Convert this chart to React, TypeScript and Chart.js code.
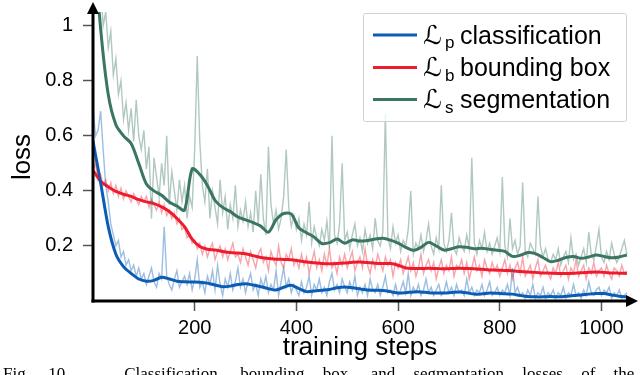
import React, { useEffect, useRef } from "react";
import { Chart, registerables } from "chart.js";

Chart.register(...registerables);

// ---------- data ----------
const RAW_STEP = 5; // raw losses sampled every 5 training steps (0..1050)
const SMOOTH_STEP = 15; // smoothed curves sampled every 15 steps (0..1050)

const X_TICKS = [200, 400, 600, 800, 1000];
const Y_TICKS = [0.2, 0.4, 0.6, 0.8, 1];

const LEGEND_SYMBOL = "ℒ";
const LEGEND_SUBS = ["p", "b", "s"];
const LEGEND_TEXT = ["classification", "bounding box", "segmentation"];

const clsRaw = [
  0.70, 0.60, 0.62, 0.69, 0.55, 0.42, 0.36, 0.28, 0.24, 0.20, 0.22, 0.16, 0.18, 0.13, 0.15, 0.11, 0.13, 0.09, 0.12, 0.08,
  0.10, 0.06, 0.09, 0.12, 0.07, 0.05, 0.10, 0.08, 0.27, 0.09, 0.06, 0.04, 0.08, 0.11, 0.05, 0.07, 0.09, 0.06, 0.10, 0.04,
  0.08, 0.15, 0.05, 0.07, 0.03, 0.09, 0.06, 0.11, 0.04, 0.13, 0.06, 0.02, 0.08, 0.05, 0.10, 0.04, 0.07, 0.12, 0.05, 0.08,
  0.03, 0.07, 0.10, 0.04, 0.06, 0.02, 0.08, 0.05, 0.09, 0.03, 0.06, 0.04, 0.11, 0.02, 0.07, 0.12, 0.05, 0.08, 0.03, 0.06,
  0.04, 0.02, 0.07, 0.03, 0.05, 0.09, 0.02, 0.06, 0.04, 0.08, 0.03, 0.05, 0.02, 0.07, 0.10, 0.04, 0.06, 0.03, 0.08, 0.05,
  0.03, 0.07, 0.04, 0.09, 0.02, 0.05, 0.03, 0.06, 0.02, 0.08, 0.04, 0.03, 0.06, 0.02, 0.05, 0.09, 0.03, 0.04, 0.02, 0.06,
  0.02, 0.04, 0.07, 0.03, 0.10, 0.02, 0.05, 0.03, 0.06, 0.02, 0.04, 0.08, 0.03, 0.05, 0.02, 0.04, 0.06, 0.02, 0.03, 0.07,
  0.03, 0.05, 0.02, 0.06, 0.03, 0.04, 0.02, 0.08, 0.03, 0.05, 0.02, 0.04, 0.03, 0.06, 0.02, 0.04, 0.07, 0.02, 0.03, 0.05,
  0.02, 0.04, 0.03, 0.06, 0.02, 0.12, 0.03, 0.05, 0.02, 0.03, 0.01, 0.04, 0.02, 0.06, 0.01, 0.03, 0.02, 0.05, 0.01, 0.03,
  0.02, 0.04, 0.01, 0.03, 0.02, 0.05, 0.01, 0.03, 0.02, 0.06, 0.02, 0.03, 0.01, 0.04, 0.02, 0.07, 0.03, 0.02, 0.04, 0.05,
  0.02, 0.04, 0.03, 0.05, 0.01, 0.03, 0.02, 0.04, 0.01, 0.02, 0.03,
];

const boxRaw = [
  0.47, 0.50, 0.44, 0.46, 0.42, 0.44, 0.40, 0.43, 0.39, 0.42, 0.38, 0.41, 0.37, 0.40, 0.38, 0.36, 0.39, 0.37, 0.35, 0.38,
  0.36, 0.38, 0.34, 0.37, 0.35, 0.33, 0.36, 0.32, 0.35, 0.31, 0.33, 0.30, 0.32, 0.28, 0.30, 0.26, 0.27, 0.23, 0.24, 0.21,
  0.22, 0.19, 0.21, 0.17, 0.20, 0.16, 0.19, 0.21, 0.15, 0.18, 0.20, 0.16, 0.19, 0.15, 0.18, 0.21, 0.16, 0.17, 0.14, 0.19,
  0.16, 0.13, 0.18, 0.15, 0.12, 0.17, 0.19, 0.14, 0.16, 0.11, 0.18, 0.15, 0.13, 0.20, 0.14, 0.12, 0.17, 0.15, 0.19, 0.13,
  0.15, 0.12, 0.17, 0.13, 0.16, 0.10, 0.14, 0.18, 0.12, 0.15, 0.11, 0.17, 0.13, 0.19, 0.12, 0.14, 0.10, 0.16, 0.13, 0.17,
  0.12, 0.15, 0.18, 0.11, 0.14, 0.16, 0.12, 0.19, 0.13, 0.10, 0.15, 0.12, 0.17, 0.14, 0.11, 0.16, 0.13, 0.15, 0.09, 0.14,
  0.12, 0.15, 0.10, 0.13, 0.16, 0.11, 0.14, 0.09, 0.12, 0.17, 0.10, 0.13, 0.15, 0.11, 0.14, 0.08, 0.12, 0.15, 0.10, 0.13,
  0.11, 0.16, 0.09, 0.13, 0.12, 0.15, 0.10, 0.14, 0.08, 0.12, 0.16, 0.11, 0.13, 0.09, 0.15, 0.12, 0.10, 0.14, 0.11, 0.13,
  0.09, 0.12, 0.15, 0.10, 0.13, 0.08, 0.12, 0.14, 0.10, 0.16, 0.09, 0.11, 0.13, 0.08, 0.12, 0.15, 0.09, 0.11, 0.13, 0.10,
  0.08, 0.12, 0.10, 0.14, 0.09, 0.11, 0.13, 0.08, 0.12, 0.10, 0.15, 0.09, 0.11, 0.13, 0.08, 0.12, 0.10, 0.14, 0.09, 0.11,
  0.12, 0.09, 0.13, 0.10, 0.08, 0.12, 0.11, 0.09, 0.13, 0.10, 0.11,
];

const segRaw = [
  1.30, 1.20, 1.10, 1.15, 1.00, 1.05, 0.92, 0.98, 0.82, 0.88, 0.75, 0.80, 0.66, 0.72, 0.62, 0.70, 0.58, 0.73, 0.60, 0.55,
  0.62, 0.48, 0.56, 0.30, 0.52, 0.45, 0.38, 0.50, 0.42, 0.60, 0.35, 0.47, 0.40, 0.33, 0.44, 0.36, 0.42, 0.30, 0.38, 0.34,
  0.55, 0.89, 0.58, 0.42, 0.36, 0.48, 0.30, 0.40, 0.34, 0.28, 0.44, 0.32, 0.38, 0.26, 0.35, 0.30, 0.42, 0.27, 0.33, 0.29,
  0.36, 0.27, 0.32, 0.25, 0.40, 0.28, 0.46, 0.30, 0.24, 0.56, 0.35, 0.28, 0.33, 0.26, 0.30, 0.38, 0.55, 0.34, 0.27, 0.31,
  0.26, 0.30, 0.22, 0.28, 0.24, 0.36, 0.21, 0.27, 0.23, 0.20, 0.26, 0.22, 0.29, 0.19, 0.60, 0.24, 0.21, 0.28, 0.50, 0.22,
  0.25, 0.19, 0.24, 0.28, 0.20, 0.23, 0.18, 0.26, 0.21, 0.24, 0.19, 0.30, 0.22, 0.20, 0.25, 0.68, 0.23, 0.19, 0.27, 0.21,
  0.24, 0.18, 0.22, 0.20, 0.26, 0.40, 0.17, 0.21, 0.19, 0.24, 0.18, 0.22, 0.28, 0.20, 0.17, 0.23, 0.19, 0.42, 0.21, 0.18,
  0.22, 0.32, 0.19, 0.17, 0.23, 0.20, 0.18, 0.24, 0.19, 0.52, 0.21, 0.17, 0.22, 0.19, 0.25, 0.18, 0.21, 0.17, 0.20, 0.23,
  0.18, 0.45, 0.20, 0.16, 0.30, 0.19, 0.22, 0.17, 0.20, 0.43, 0.18, 0.16, 0.21, 0.19, 0.17, 0.38, 0.20, 0.16, 0.19, 0.15,
  0.14, 0.17, 0.15, 0.19, 0.13, 0.16, 0.18, 0.14, 0.23, 0.15, 0.17, 0.13, 0.16, 0.19, 0.14, 0.25, 0.17, 0.15, 0.20, 0.26,
  0.16, 0.14, 0.18, 0.15, 0.21, 0.17, 0.14, 0.16, 0.19, 0.22, 0.17,
];

const clsSmooth = [
  0.58, 0.43, 0.27, 0.17, 0.125, 0.10, 0.08, 0.072, 0.075, 0.086, 0.08, 0.072, 0.07, 0.069, 0.068, 0.065, 0.058, 0.052,
  0.054, 0.06, 0.063, 0.058, 0.052, 0.045, 0.04, 0.05, 0.057, 0.045, 0.034, 0.036, 0.039, 0.042, 0.048, 0.051, 0.048,
  0.044, 0.04, 0.039, 0.038, 0.034, 0.029, 0.03, 0.033, 0.033, 0.03, 0.029, 0.029, 0.031, 0.033, 0.03, 0.025, 0.026,
  0.029, 0.028, 0.026, 0.025, 0.02, 0.016, 0.015, 0.015, 0.016, 0.015, 0.017, 0.02, 0.022, 0.025, 0.027, 0.027, 0.022,
  0.017, 0.015,
];

const boxSmooth = [
  0.475, 0.435, 0.415, 0.398, 0.388, 0.38, 0.368, 0.36, 0.354, 0.342, 0.325, 0.30, 0.27, 0.225, 0.198, 0.188, 0.185,
  0.18, 0.176, 0.174, 0.172, 0.165, 0.158, 0.154, 0.152, 0.151, 0.15, 0.146, 0.142, 0.139, 0.136, 0.135, 0.136, 0.138,
  0.141, 0.142, 0.14, 0.137, 0.136, 0.136, 0.13, 0.12, 0.118, 0.118, 0.119, 0.118, 0.117, 0.118, 0.119, 0.118, 0.117,
  0.115, 0.113, 0.112, 0.111, 0.11, 0.107, 0.105, 0.104, 0.102, 0.101, 0.1, 0.1, 0.101, 0.103, 0.104, 0.105, 0.104,
  0.102, 0.101, 0.10,
];

const segSmooth = [
  1.35, 0.99, 0.75, 0.64, 0.60, 0.572, 0.50, 0.425, 0.40, 0.384, 0.36, 0.345, 0.33, 0.48, 0.46, 0.42, 0.366, 0.34,
  0.325, 0.305, 0.295, 0.285, 0.272, 0.25, 0.295, 0.318, 0.316, 0.265, 0.248, 0.232, 0.209, 0.212, 0.225, 0.21, 0.222,
  0.218, 0.22, 0.225, 0.228, 0.221, 0.21, 0.195, 0.184, 0.195, 0.213, 0.2, 0.185, 0.19, 0.197, 0.195, 0.19, 0.192,
  0.188, 0.184, 0.18, 0.162, 0.166, 0.176, 0.172, 0.158, 0.143, 0.148, 0.158, 0.162, 0.155, 0.16, 0.167, 0.162, 0.157,
  0.16, 0.167,
];

// ---------- styles ----------
const BLUE = "#0b5db4";
const RED = "#ee1c2e";
const GREEN = "#3b7563";
const BLUE_RAW = "rgba(11,93,180,0.4)";
const RED_RAW = "rgba(238,28,46,0.4)";
const GREEN_RAW = "rgba(59,117,99,0.4)";
const SANS = '"Liberation Sans", Arial, Helvetica, sans-serif';

const toPoints = (vals: number[], step: number) => vals.map((v, i) => ({ x: i * step, y: v }));

const decorPlugin = {
  id: "decor",
  afterDatasetsDraw(chart: any) {
    const { ctx, chartArea } = chart;
    const { left, right, top, bottom } = chartArea;
    ctx.save();
    ctx.strokeStyle = "#000";
    ctx.fillStyle = "#000";
    ctx.lineWidth = 3;
    // y axis with arrow
    ctx.beginPath();
    ctx.moveTo(left, bottom + 1.5);
    ctx.lineTo(left, top);
    ctx.stroke();
    ctx.beginPath();
    ctx.moveTo(left, top - 10);
    ctx.lineTo(left - 6, top + 2);
    ctx.lineTo(left + 6, top + 2);
    ctx.closePath();
    ctx.fill();
    // x axis with arrow
    ctx.beginPath();
    ctx.moveTo(left - 1.5, bottom);
    ctx.lineTo(right - 4, bottom);
    ctx.stroke();
    ctx.beginPath();
    ctx.moveTo(right + 5, bottom);
    ctx.lineTo(right - 7, bottom - 6);
    ctx.lineTo(right - 7, bottom + 6);
    ctx.closePath();
    ctx.fill();

    // axis titles
    ctx.font = `26px ${SANS}`;
    ctx.textAlign = "center";
    ctx.textBaseline = "alphabetic";
    ctx.fillText("training steps", 360, 355);
    ctx.save();
    ctx.translate(30, 157);
    ctx.rotate(-Math.PI / 2);
    ctx.fillText("loss", 0, 0);
    ctx.restore();
    ctx.restore();
  },
  afterDraw(chart: any) {
    const { ctx } = chart;
    ctx.save();
    // legend box
    const bx = 363.5, by = 13.5, bw = 263, bh = 108;
    ctx.fillStyle = "rgba(255,255,255,0.8)";
    ctx.strokeStyle = "#d0d0d0";
    ctx.lineWidth = 1;
    ctx.beginPath();
    ctx.moveTo(bx + 2, by);
    ctx.lineTo(bx + bw - 2, by);
    ctx.quadraticCurveTo(bx + bw, by, bx + bw, by + 2);
    ctx.lineTo(bx + bw, by + bh - 2);
    ctx.quadraticCurveTo(bx + bw, by + bh, bx + bw - 2, by + bh);
    ctx.lineTo(bx + 2, by + bh);
    ctx.quadraticCurveTo(bx, by + bh, bx, by + bh - 2);
    ctx.lineTo(bx, by + 2);
    ctx.quadraticCurveTo(bx, by, bx + 2, by);
    ctx.closePath();
    ctx.fill();
    ctx.stroke();

    const colors = [BLUE, RED, GREEN];
    const lineYs = [35, 67.5, 99.5];
    for (let i = 0; i < 3; i++) {
      const ly = lineYs[i];
      ctx.strokeStyle = colors[i];
      ctx.lineWidth = 3;
      ctx.beginPath();
      ctx.moveTo(373, ly);
      ctx.lineTo(417, ly);
      ctx.stroke();
      ctx.fillStyle = "#000";
      ctx.textAlign = "left";
      ctx.textBaseline = "alphabetic";
      ctx.font = `26px "DejaVu Sans", ${SANS}`;
      ctx.fillText(LEGEND_SYMBOL, 423, ly + 8.5);
      ctx.font = `17px ${SANS}`;
      ctx.fillText(LEGEND_SUBS[i], 445, ly + 13);
      ctx.font = `25px ${SANS}`;
      ctx.fillText(LEGEND_TEXT[i], 460, ly + 8.5);
    }
    ctx.restore();
  },
};

export default function App() {
  const canvasRef = useRef<HTMLCanvasElement | null>(null);

  useEffect(() => {
    const canvas = canvasRef.current;
    if (!canvas) return;
    const raw = (data: number[], color: string) => ({
      data: toPoints(data, RAW_STEP),
      borderColor: color,
      borderWidth: 1.4,
      pointRadius: 0,
      tension: 0,
    });
    const smooth = (data: number[], color: string) => ({
      data: toPoints(data, SMOOTH_STEP),
      borderColor: color,
      borderWidth: 3,
      pointRadius: 0,
      tension: 0.3,
      borderJoinStyle: "round" as const,
    });
    const chart = new Chart(canvas, {
      type: "line",
      data: {
        datasets: [
          raw(segRaw, GREEN_RAW),
          raw(boxRaw, RED_RAW),
          raw(clsRaw, BLUE_RAW),
          smooth(clsSmooth, BLUE),
          smooth(boxSmooth, RED),
          smooth(segSmooth, GREEN),
        ],
      },
      options: {
        animation: false,
        responsive: false,
        devicePixelRatio: 1,
        layout: { padding: { top: 12, right: 7, left: 0, bottom: 0 } },
        plugins: { legend: { display: false }, tooltip: { enabled: false } },
        scales: {
          x: {
            type: "linear",
            min: 0,
            max: 1062,
            afterFit: (s: any) => {
              s.height = 74;
              s.paddingLeft = 0;
              s.paddingRight = 0;
            },
            afterBuildTicks: (s: any) => {
              s.ticks = X_TICKS.map((v) => ({ value: v }));
            },
            border: { display: false },
            grid: { drawOnChartArea: false, drawTicks: true, tickLength: 10, tickColor: "#555", tickWidth: 1.5 },
            ticks: {
              color: "#000",
              font: { family: SANS, size: 20 },
              padding: 5,
              maxRotation: 0,
              callback: (v: any) => String(v),
            },
          },
          y: {
            type: "linear",
            min: 0,
            max: 1.05,
            afterFit: (s: any) => {
              s.width = 93;
              s.paddingTop = 0;
              s.paddingBottom = 0;
            },
            afterBuildTicks: (s: any) => {
              s.ticks = Y_TICKS.map((v) => ({ value: v }));
            },
            border: { display: false },
            grid: { drawOnChartArea: false, drawTicks: true, tickLength: 10, tickColor: "#555", tickWidth: 1.5 },
            ticks: {
              color: "#000",
              font: { family: SANS, size: 20 },
              padding: 10,
              callback: (v: any) => String(v),
            },
          },
        },
      },
      plugins: [decorPlugin],
    });
    return () => chart.destroy();
  }, []);

  return (
    <div
      style={{
        position: "fixed",
        left: 0,
        top: 0,
        width: 640,
        height: 375,
        overflow: "hidden",
        background: "#fff",
      }}
    >
      <canvas ref={canvasRef} width={640} height={375} style={{ display: "block" }} />
      <div
        style={{
          position: "absolute",
          left: 3,
          top: 364,
          whiteSpace: "nowrap",
          font: '17px "Liberation Serif", "Times New Roman", serif',
          wordSpacing: 14,
          color: "#000",
        }}
      >
        Fig. 10.&nbsp;&nbsp; Classification, bounding box, and segmentation losses of the
      </div>
    </div>
  );
}
